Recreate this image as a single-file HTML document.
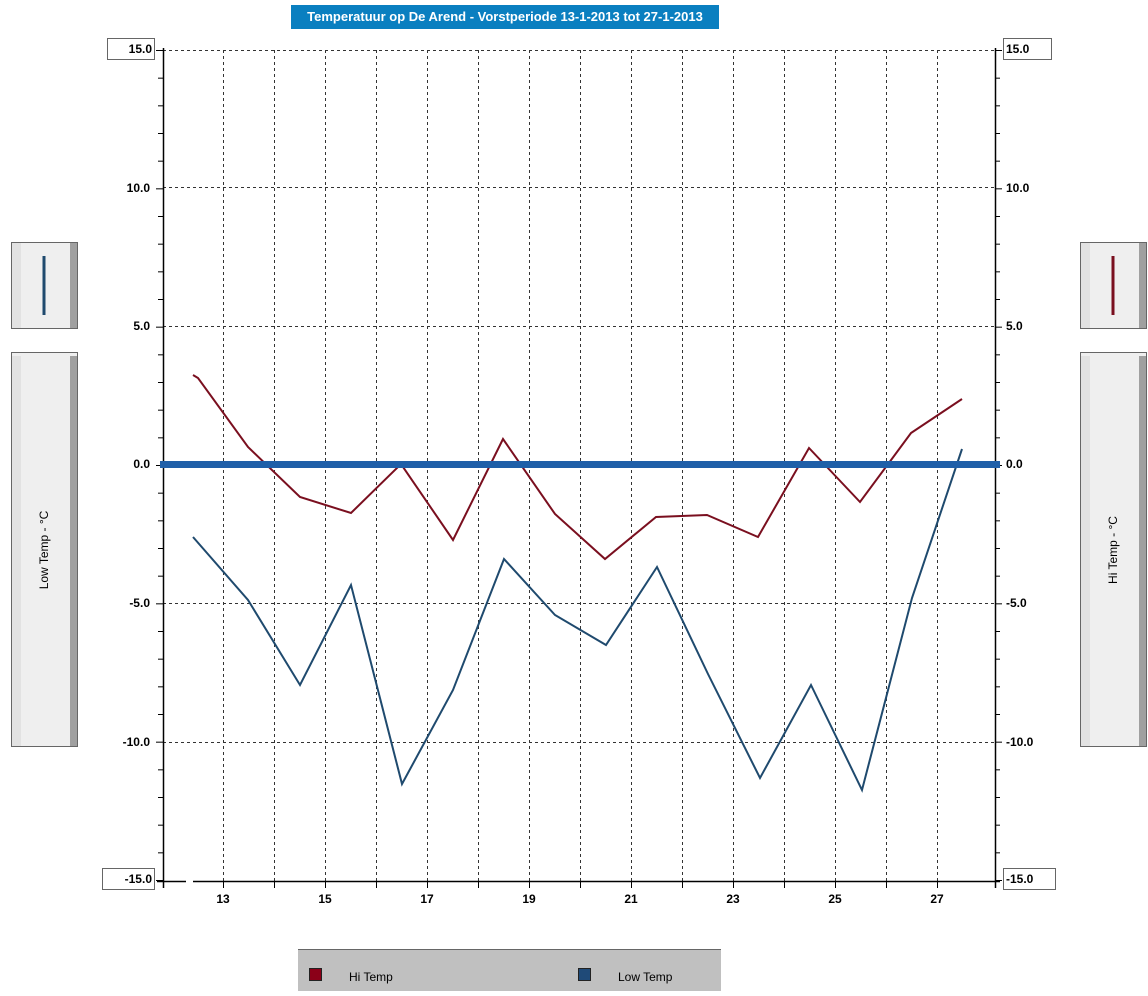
<!DOCTYPE html>
<html><head><meta charset="utf-8"><style>
body{margin:0;background:#fff;width:1148px;height:991px;overflow:hidden;font-family:"Liberation Sans",sans-serif;}
</style></head><body>
<svg width="1148" height="991" xmlns="http://www.w3.org/2000/svg" font-family="Liberation Sans, sans-serif">
<rect x="291" y="5" width="428" height="24" fill="#0a7fc0"/>
<text x="505" y="21" fill="#fff" font-size="13" font-weight="bold" text-anchor="middle">Temperatuur op De Arend - Vorstperiode 13-1-2013 tot 27-1-2013</text>
<!-- grid -->
<g stroke="#333" stroke-width="1" stroke-dasharray="3,3">
<line x1="163" y1="50.5" x2="995" y2="50.5"/>
<line x1="163" y1="187.5" x2="995" y2="187.5"/>
<line x1="163" y1="326.5" x2="995" y2="326.5"/>
<line x1="163" y1="603.5" x2="995" y2="603.5"/>
<line x1="163" y1="742.5" x2="995" y2="742.5"/>
<line x1="223.5" y1="50" x2="223.5" y2="881"/><line x1="274.5" y1="50" x2="274.5" y2="881"/>
<line x1="325.5" y1="50" x2="325.5" y2="881"/><line x1="376.5" y1="50" x2="376.5" y2="881"/>
<line x1="427.5" y1="50" x2="427.5" y2="881"/><line x1="478.5" y1="50" x2="478.5" y2="881"/>
<line x1="529.5" y1="50" x2="529.5" y2="881"/><line x1="580.5" y1="50" x2="580.5" y2="881"/>
<line x1="631.5" y1="50" x2="631.5" y2="881"/><line x1="682.5" y1="50" x2="682.5" y2="881"/>
<line x1="733.5" y1="50" x2="733.5" y2="881"/><line x1="784.5" y1="50" x2="784.5" y2="881"/>
<line x1="835.5" y1="50" x2="835.5" y2="881"/><line x1="886.5" y1="50" x2="886.5" y2="881"/>
<line x1="937.5" y1="50" x2="937.5" y2="881"/>
</g>
<!-- axes -->
<g stroke="#000" stroke-width="1.5">
<line x1="163.5" y1="48" x2="163.5" y2="888"/>
<line x1="995.5" y1="48" x2="995.5" y2="888"/>
<line x1="157" y1="881.5" x2="186" y2="881.5"/>
<line x1="193" y1="881.5" x2="1000" y2="881.5"/>
</g>
<g stroke="#000" stroke-width="1" id="ticks"></g>
<!-- series -->
<polyline fill="none" stroke="#7a0f1f" stroke-width="2" points="193,375 198,378 248,447 300,497 351,513 401,464 453,540 503,439 555,514 605,559 656,517 707,515 758,537 809,448 860,502 911,433 962,399"/>
<polyline fill="none" stroke="#1f4a6e" stroke-width="2" points="193,537 248,600 300,685 351,585 402,784 453,690 504,559 555,615 606,645 657,567 708,674 760,778 811,685 862,790 912,598 962,449"/>
<rect x="160" y="461" width="840" height="7" fill="#1f5fa8"/>
<!-- labels -->
<g font-size="12" font-weight="bold" fill="#000">
<rect x="107.5" y="38.5" width="47" height="21" fill="#fff" stroke="#666"/>
<text x="152" y="53" text-anchor="end">15.0</text>
<text x="150" y="192" text-anchor="end">10.0</text>
<text x="150" y="330" text-anchor="end">5.0</text>
<text x="150" y="468" text-anchor="end">0.0</text>
<text x="150" y="607" text-anchor="end">-5.0</text>
<text x="150" y="746" text-anchor="end">-10.0</text>
<rect x="102.5" y="868.5" width="52" height="21" fill="#fff" stroke="#666"/>
<text x="152" y="883" text-anchor="end">-15.0</text>
<rect x="1003.5" y="38.5" width="48" height="21" fill="#fff" stroke="#666"/>
<text x="1006" y="53">15.0</text>
<text x="1006" y="192">10.0</text>
<text x="1006" y="330">5.0</text>
<text x="1006" y="468">0.0</text>
<text x="1006" y="607">-5.0</text>
<text x="1006" y="746">-10.0</text>
<rect x="1003.5" y="868.5" width="52" height="21" fill="#fff" stroke="#666"/>
<text x="1006" y="883">-15.0</text>
<text x="223" y="903" text-anchor="middle">13</text>
<text x="325" y="903" text-anchor="middle">15</text>
<text x="427" y="903" text-anchor="middle">17</text>
<text x="529" y="903" text-anchor="middle">19</text>
<text x="631" y="903" text-anchor="middle">21</text>
<text x="733" y="903" text-anchor="middle">23</text>
<text x="835" y="903" text-anchor="middle">25</text>
<text x="937" y="903" text-anchor="middle">27</text>
</g>
<!-- side panels -->
<g>
<rect x="11.5" y="242.5" width="66" height="86" fill="#efefef" stroke="#666"/>
<rect x="12" y="243" width="9" height="85" fill="#e2e2e2"/><rect x="70" y="243" width="7" height="85" fill="#a0a0a0"/>
<line x1="44" y1="256" x2="44" y2="315" stroke="#1f4a6e" stroke-width="3"/>
<rect x="11.5" y="352.5" width="66" height="394" fill="#efefef" stroke="#666"/>
<rect x="12" y="356" width="9" height="390" fill="#e2e2e2"/><rect x="70" y="356" width="7" height="390" fill="#a0a0a0"/>
<text transform="translate(48,550) rotate(-90)" font-size="12" text-anchor="middle">Low Temp - °C</text>
<rect x="1080.5" y="242.5" width="66" height="86" fill="#efefef" stroke="#666"/>
<rect x="1081" y="243" width="9" height="85" fill="#e2e2e2"/><rect x="1139" y="243" width="7" height="85" fill="#a0a0a0"/>
<line x1="1113" y1="256" x2="1113" y2="315" stroke="#7a0f1f" stroke-width="3"/>
<rect x="1080.5" y="352.5" width="66" height="394" fill="#efefef" stroke="#666"/>
<rect x="1081" y="356" width="9" height="390" fill="#e2e2e2"/><rect x="1139" y="356" width="7" height="390" fill="#a0a0a0"/>
<text transform="translate(1117,550) rotate(-90)" font-size="12" text-anchor="middle">Hi Temp - °C</text>
</g>
<!-- legend -->
<rect x="298" y="949" width="423" height="42" fill="#c0c0c0"/>
<line x1="298" y1="949.5" x2="721" y2="949.5" stroke="#666"/>
<rect x="309.5" y="968.5" width="12" height="12" fill="#8b0018" stroke="#222"/>
<text x="349" y="981" font-size="12">Hi Temp</text>
<rect x="578.5" y="968.5" width="12" height="12" fill="#1f4a78" stroke="#222"/>
<text x="618" y="981" font-size="12">Low Temp</text>
</svg>
<script>
var g=document.getElementById('ticks'),s='';
for(var i=0;i<=30;i++){var y=50.5+i*830/30;var m=(i%5==0)?7:5;
s+='<line x1="'+(163-m)+'" y1="'+y+'" x2="163" y2="'+y+'"/><line x1="995" y1="'+y+'" x2="'+(995+m)+'" y2="'+y+'"/>';}
for(var d=1;d<16;d++){var x=172.5+d*51;s+='<line x1="'+x+'" y1="881" x2="'+x+'" y2="888"/>';}
g.innerHTML=s;
</script>
</body></html>
